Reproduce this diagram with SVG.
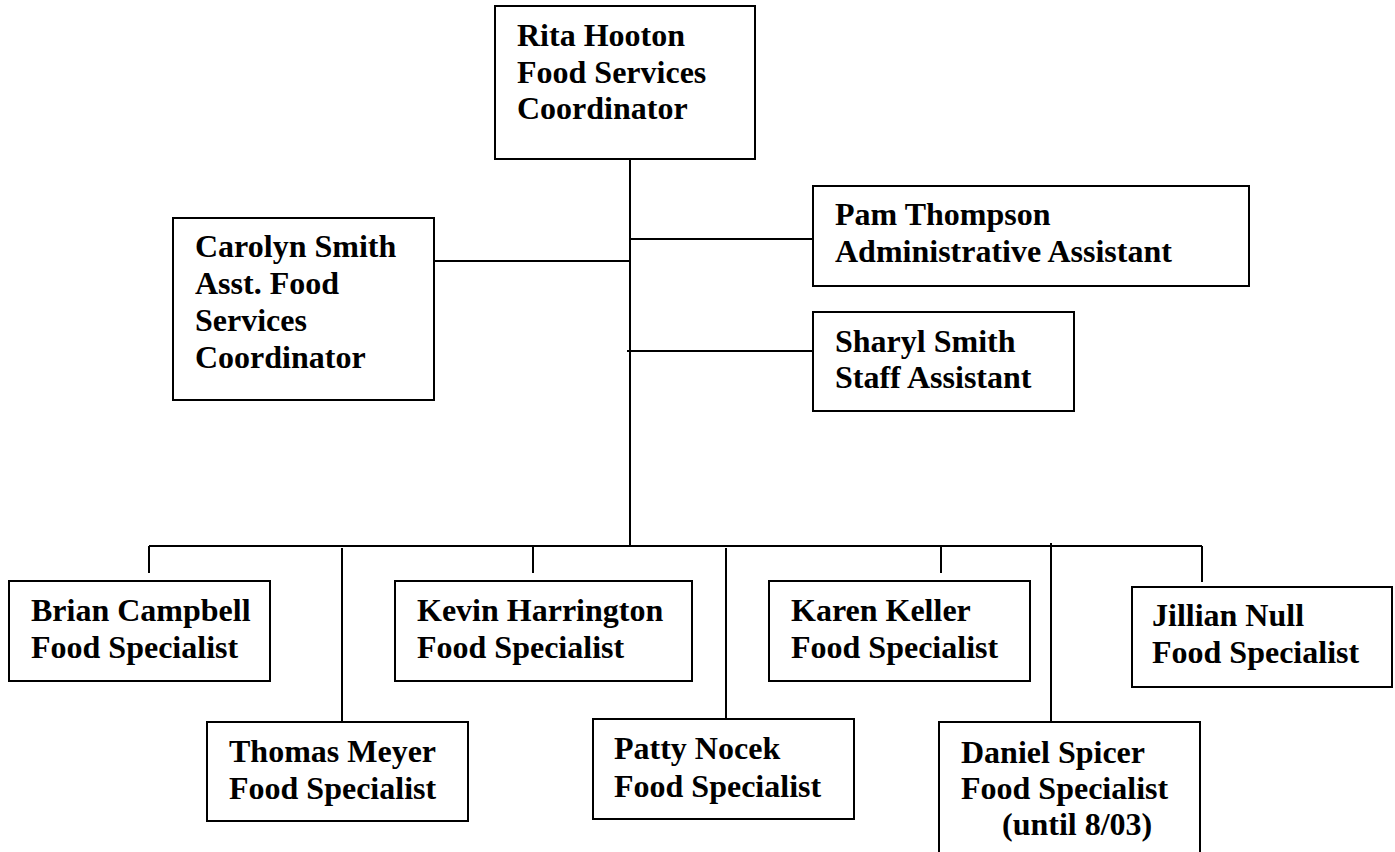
<svg xmlns="http://www.w3.org/2000/svg" width="1395" height="852" viewBox="0 0 1395 852">
  <style>
    .box { fill: #ffffff; stroke: #000000; stroke-width: 2; }
    .wire { stroke: #000000; stroke-width: 2; fill: none; }
    .lbl { font-family: "Liberation Serif", "Times New Roman", serif; font-weight: bold; font-size: 32px; fill: #000000; }
  </style>
  <rect x="0" y="0" width="1395" height="852" fill="#ffffff"/>

  <!-- reporting lines -->
  <g id="connectors">
    <line class="wire" x1="630" y1="159" x2="630" y2="547"/>
    <line class="wire" x1="434" y1="261" x2="630" y2="261"/>
    <line class="wire" x1="630" y1="239" x2="813" y2="239"/>
    <line class="wire" x1="627" y1="351" x2="813" y2="351"/>
    <line class="wire" x1="149" y1="546" x2="1202" y2="546"/>
    <line class="wire" x1="149" y1="546" x2="149" y2="573"/>
    <line class="wire" x1="342" y1="548" x2="342" y2="721"/>
    <line class="wire" x1="533" y1="546" x2="533" y2="573"/>
    <line class="wire" x1="726" y1="548" x2="726" y2="718"/>
    <line class="wire" x1="941" y1="546" x2="941" y2="573"/>
    <line class="wire" x1="1051" y1="543" x2="1051" y2="721"/>
    <line class="wire" x1="1202" y1="546" x2="1202" y2="582"/>
  </g>

  <g id="rita-hooton">
    <rect class="box" x="495" y="6" width="260" height="153"/>
    <text class="lbl" x="517" y="46">Rita Hooton</text>
    <text class="lbl" x="517" y="83">Food Services</text>
    <text class="lbl" x="517" y="119">Coordinator</text>
  </g>

  <g id="carolyn-smith">
    <rect class="box" x="173" y="218" width="261" height="182"/>
    <text class="lbl" x="195" y="257">Carolyn Smith</text>
    <text class="lbl" x="195" y="294">Asst. Food</text>
    <text class="lbl" x="195" y="331">Services</text>
    <text class="lbl" x="195" y="368">Coordinator</text>
  </g>

  <g id="pam-thompson">
    <rect class="box" x="813" y="186" width="436" height="100"/>
    <text class="lbl" x="835" y="225">Pam Thompson</text>
    <text class="lbl" x="835" y="262">Administrative Assistant</text>
  </g>

  <g id="sharyl-smith">
    <rect class="box" x="813" y="312" width="261" height="99"/>
    <text class="lbl" x="835" y="352">Sharyl Smith</text>
    <text class="lbl" x="835" y="388">Staff Assistant</text>
  </g>

  <g id="brian-campbell">
    <rect class="box" x="9" y="581" width="261" height="100"/>
    <text class="lbl" x="31" y="621">Brian Campbell</text>
    <text class="lbl" x="31" y="658">Food Specialist</text>
  </g>

  <g id="kevin-harrington">
    <rect class="box" x="395" y="581" width="297" height="100"/>
    <text class="lbl" x="417" y="621">Kevin Harrington</text>
    <text class="lbl" x="417" y="658">Food Specialist</text>
  </g>

  <g id="karen-keller">
    <rect class="box" x="769" y="581" width="261" height="100"/>
    <text class="lbl" x="791" y="621">Karen Keller</text>
    <text class="lbl" x="791" y="658">Food Specialist</text>
  </g>

  <g id="jillian-null">
    <rect class="box" x="1132" y="587" width="260" height="100"/>
    <text class="lbl" x="1152" y="626">Jillian Null</text>
    <text class="lbl" x="1152" y="663">Food Specialist</text>
  </g>

  <g id="thomas-meyer">
    <rect class="box" x="207" y="722" width="261" height="99"/>
    <text class="lbl" x="229" y="762">Thomas Meyer</text>
    <text class="lbl" x="229" y="799">Food Specialist</text>
  </g>

  <g id="patty-nocek">
    <rect class="box" x="593" y="719" width="261" height="100"/>
    <text class="lbl" x="614" y="759">Patty Nocek</text>
    <text class="lbl" x="614" y="797">Food Specialist</text>
  </g>

  <g id="daniel-spicer">
    <rect class="box" x="939" y="722" width="261" height="132"/>
    <text class="lbl" x="961" y="763">Daniel Spicer</text>
    <text class="lbl" x="961" y="799">Food Specialist</text>
    <text class="lbl" x="1002" y="835">(until 8/03)</text>
  </g>
</svg>
